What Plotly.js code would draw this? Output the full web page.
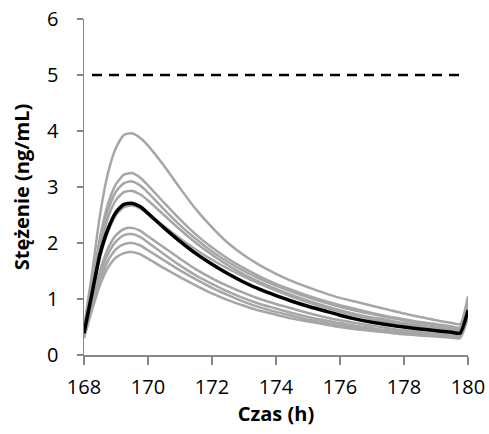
<!DOCTYPE html>
<html>
<head>
<meta charset="utf-8">
<script src="https://cdn.plot.ly/plotly-3.0.1.min.js"></script>
<style>html,body{margin:0;padding:0;background:#fff;}#chart{width:489px;height:434px;}</style>
</head>
<body>
<div id="chart"></div>
<script>
const time = [168,168.25,168.5,168.75,169,169.25,169.5,169.75,170,170.5,171,171.5,172,172.5,173,173.5,174,174.5,175,175.5,176,176.5,177,177.5,178,178.5,179,179.5,179.75,180];

const subject1 = [0.50,1.45,2.50,3.25,3.70,3.93,3.96,3.88,3.74,3.38,2.98,2.60,2.28,2.00,1.78,1.60,1.45,1.32,1.21,1.11,1.02,0.95,0.88,0.81,0.74,0.68,0.62,0.57,0.55,1.05];
const subject2 = [0.47,1.25,2.10,2.70,3.05,3.22,3.25,3.17,3.03,2.72,2.42,2.15,1.92,1.72,1.55,1.40,1.27,1.16,1.06,0.97,0.89,0.82,0.75,0.69,0.64,0.59,0.55,0.51,0.49,0.98];
const subject3 = [0.45,1.20,2.00,2.58,2.92,3.07,3.10,3.03,2.90,2.60,2.32,2.07,1.85,1.66,1.50,1.36,1.24,1.13,1.03,0.94,0.86,0.79,0.73,0.67,0.62,0.57,0.53,0.49,0.47,0.95];
const subject4 = [0.43,1.15,1.90,2.45,2.77,2.91,2.93,2.87,2.76,2.50,2.24,2.00,1.79,1.60,1.44,1.30,1.18,1.07,0.97,0.88,0.80,0.73,0.67,0.62,0.57,0.53,0.49,0.46,0.44,0.90];
const subject5 = [0.40,1.05,1.75,2.20,2.50,2.64,2.67,2.62,2.52,2.30,2.08,1.88,1.70,1.54,1.40,1.27,1.15,1.04,0.94,0.85,0.77,0.70,0.64,0.59,0.55,0.51,0.47,0.44,0.42,0.85];
const subject6 = [0.36,0.95,1.50,1.90,2.14,2.25,2.27,2.22,2.12,1.92,1.72,1.53,1.37,1.23,1.11,1.00,0.91,0.83,0.75,0.68,0.62,0.57,0.52,0.48,0.44,0.41,0.38,0.36,0.35,0.78];
const subject7 = [0.34,0.90,1.43,1.80,2.03,2.14,2.16,2.11,2.01,1.80,1.60,1.42,1.27,1.13,1.01,0.91,0.83,0.75,0.68,0.62,0.57,0.52,0.48,0.44,0.41,0.38,0.35,0.33,0.32,0.74];
const subject8 = [0.32,0.85,1.33,1.68,1.89,1.98,2.00,1.96,1.87,1.69,1.51,1.35,1.20,1.07,0.95,0.85,0.77,0.70,0.63,0.58,0.53,0.49,0.45,0.42,0.39,0.36,0.34,0.32,0.31,0.70];
const subject9 = [0.30,0.80,1.25,1.56,1.74,1.82,1.84,1.80,1.72,1.55,1.39,1.24,1.10,0.98,0.88,0.79,0.72,0.65,0.60,0.55,0.50,0.46,0.43,0.40,0.37,0.35,0.33,0.31,0.30,0.68];
const meanConc = [0.39,1.10,1.80,2.25,2.55,2.69,2.71,2.65,2.53,2.27,2.03,1.81,1.62,1.45,1.30,1.17,1.06,0.96,0.87,0.79,0.71,0.64,0.585,0.54,0.50,0.465,0.435,0.405,0.39,0.80];

const limitTime = [168.25, 179.75];
const limitConc = [5, 5];

const xTicks = [168,170,172,174,176,178,180];
const yTicks = [0,1,2,3,4,5,6];

const subjects = [subject1,subject2,subject3,subject4,subject5,subject6,subject7,subject8,subject9];
const traces = subjects.map((s,i) => ({
  x: time, y: s, type: 'scatter', mode: 'lines', name: 'Pacjent ' + (i+1),
  line: {color: '#A6A6A6', width: 2.5, shape: 'spline', smoothing: 0.6}
}));
traces.push({x: time, y: meanConc, type: 'scatter', mode: 'lines', name: 'Średnia',
  line: {color: '#000000', width: 3.5, shape: 'spline', smoothing: 0.6}});
traces.push({x: limitTime, y: limitConc, type: 'scatter', mode: 'lines', name: 'Limit',
  line: {color: '#000000', width: 2.5, dash: '10px,7px'}});

const font = "'Open Sans', 'DejaVu Sans', sans-serif";
const layout = {
  width: 489, height: 434,
  margin: {l: 84, r: 21, t: 19, b: 79},
  paper_bgcolor: '#ffffff', plot_bgcolor: '#ffffff',
  showlegend: false,
  font: {family: font, size: 20, color: '#000000'},
  xaxis: {
    range: [168, 180], tickvals: xTicks, ticktext: xTicks.map(String),
    showgrid: false, zeroline: false, showline: true, linecolor: '#868686', linewidth: 1.5,
    ticks: 'outside', ticklen: 8, tickcolor: '#868686', tickwidth: 1.5,
    tickfont: {family: font, size: 20, color: '#000000'},
    ticklabelstandoff: 5,
    title: {text: '<b>Czas (h)</b>', font: {family: font, size: 20, color: '#000000'}, standoff: 6}
  },
  yaxis: {
    range: [0, 6], tickvals: yTicks, ticktext: yTicks.map(String),
    showgrid: false, zeroline: false, showline: true, linecolor: '#868686', linewidth: 1.5,
    ticks: 'outside', ticklen: 6, tickcolor: '#868686', tickwidth: 1.5,
    tickfont: {family: font, size: 20, color: '#000000'},
    ticklabelstandoff: 14,
    title: {text: '<b>Stężenie (ng/mL)</b>', font: {family: font, size: 20, color: '#000000'}, standoff: 12}
  }
};

Plotly.newPlot('chart', traces, layout, {displayModeBar: false, staticPlot: true});
</script>
</body>
</html>
